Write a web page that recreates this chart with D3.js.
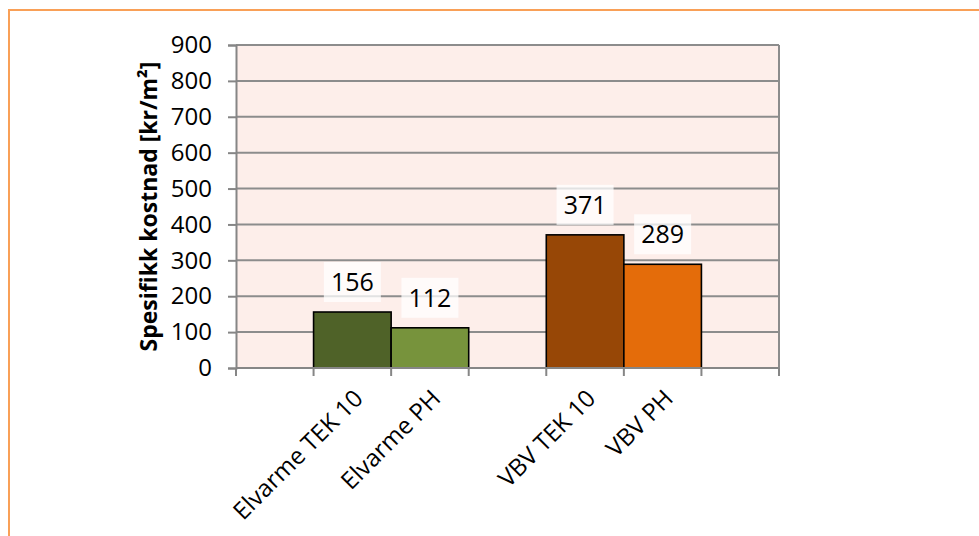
<!DOCTYPE html>
<html>
<head>
<meta charset="utf-8">
<script src="https://cdn.jsdelivr.net/npm/d3@7"></script>
<style>
  html, body { margin: 0; padding: 0; background: #ffffff; }
  svg { display: block; }
  text { font-family: "Open Sans", sans-serif; fill: #000; }
</style>
</head>
<body>
<script>
// ---- data ----
const categories = ["", "Elvarme TEK 10", "Elvarme PH", "", "VBV TEK 10", "VBV PH", ""];
const values = [null, 156, 112, null, 371, 289, null];
const barColors = [null, "#4F6228", "#77933C", null, "#974706", "#E46C0A", null];
const yTicks = [0, 100, 200, 300, 400, 500, 600, 700, 800, 900];
const yTitle = "Spesifikk kostnad [kr/m²]";

const W = 979, H = 536;
const margin = { left: 236, right: 200, top: 45, bottom: 168 };
const pw = W - margin.left - margin.right;   // 543
const ph = H - margin.top - margin.bottom;   // 323

const svg = d3.select("body").append("svg").attr("width", W).attr("height", H);

// outer chart border (orange)
svg.append("rect")
  .attr("x", 9).attr("y", 10).attr("width", W + 20).attr("height", H + 20)
  .attr("fill", "#ffffff").attr("stroke", "#F9A057").attr("stroke-width", 2);

const g = svg.append("g").attr("transform", `translate(${margin.left},${margin.top})`);

const x = d3.scaleBand().domain(d3.range(categories.length)).range([0, pw]).padding(0);
const y = d3.scaleLinear().domain([0, 900]).range([ph, 0]);

// plot background
g.append("rect").attr("x", 0).attr("y", 0).attr("width", pw).attr("height", ph)
  .attr("fill", "#FDEEEA");

// gridlines
g.append("g").selectAll("line").data(yTicks.filter(d => d > 0)).join("line")
  .attr("x1", 0).attr("x2", pw)
  .attr("y1", d => y(d)).attr("y2", d => y(d))
  .attr("stroke", "#8C8C8C").attr("stroke-width", 2);

// right plot border
g.append("line").attr("x1", pw).attr("x2", pw).attr("y1", 0).attr("y2", ph)
  .attr("stroke", "#8C8C8C").attr("stroke-width", 2);

// bars
const idx = d3.range(categories.length).filter(i => values[i] != null);
g.append("g").selectAll("rect").data(idx).join("rect")
  .attr("x", i => x(i)).attr("width", x.bandwidth())
  .attr("y", i => y(values[i])).attr("height", i => ph - y(values[i]))
  .attr("fill", i => barColors[i]).attr("stroke", "#000").attr("stroke-width", 1.6);

// data labels with translucent white boxes
const lab = g.append("g").selectAll("g").data(idx).join("g")
  .attr("transform", i => `translate(${x(i) + x.bandwidth() / 2},${y(values[i]) - 10})`);
lab.append("rect").attr("x", -28.5).attr("y", -40).attr("width", 57).attr("height", 40)
  .attr("fill", "#ffffff").attr("fill-opacity", 0.75);
lab.append("text").attr("text-anchor", "middle").attr("y", -11)
  .style("font-size", "25px").text(i => values[i]);

// y axis
const yAxis = g.append("g").call(
  d3.axisLeft(y).tickValues(yTicks).tickSize(8).tickPadding(16).tickFormat(d3.format("d")));
yAxis.select(".domain").attr("stroke", "#868686").attr("stroke-width", 2);
yAxis.selectAll(".tick line").attr("stroke", "#868686").attr("stroke-width", 2);
yAxis.selectAll(".tick text").style("font-size", "24px").style("font-family", "'Open Sans', sans-serif").attr("fill", "#000");

// x axis (ticks at category boundaries)
const xAxisG = g.append("g").attr("transform", `translate(0,${ph})`);
xAxisG.append("line").attr("x1", 0).attr("x2", pw).attr("y1", 0).attr("y2", 0)
  .attr("stroke", "#868686").attr("stroke-width", 2);
const bounds = d3.range(categories.length + 1).map(i => i < categories.length ? x(i) : pw);
xAxisG.selectAll("line.tk").data(bounds).join("line").attr("class", "tk")
  .attr("x1", d => d).attr("x2", d => d).attr("y1", 0).attr("y2", 8)
  .attr("stroke", "#868686").attr("stroke-width", 2);
xAxisG.selectAll("text.cat").data(d3.range(categories.length).filter(i => categories[i])).join("text")
  .attr("class", "cat")
  .attr("text-anchor", "end")
  .attr("transform", i => `translate(${x(i) + x.bandwidth() / 2 + 12},${32}) rotate(-45)`)
  .style("font-size", "24px")
  .text(i => categories[i]);

// y title
svg.append("text")
  .attr("transform", `translate(157,${margin.top + ph / 2}) rotate(-90)`)
  .attr("text-anchor", "middle")
  .style("font-size", "23px").style("font-weight", "bold")
  .text(yTitle);
</script>
</body>
</html>
